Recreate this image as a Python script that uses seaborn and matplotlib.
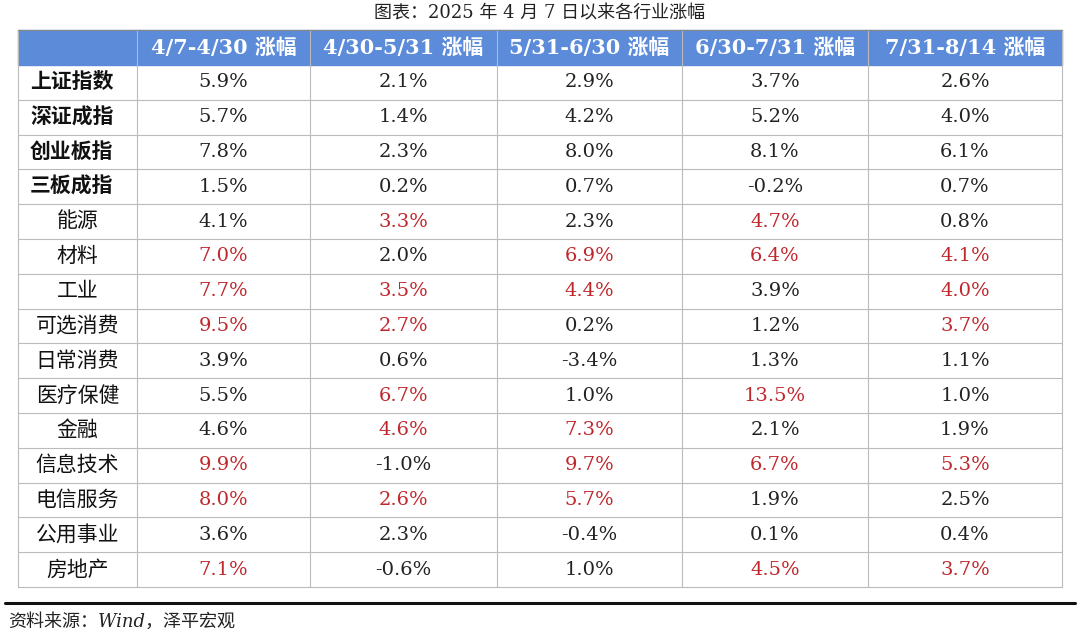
import matplotlib
matplotlib.use("Agg")
import matplotlib.pyplot as plt
import seaborn as sns
import numpy as np

sns.set_theme(style="white")
plt.rcParams['font.family'] = ['DejaVu Serif', 'Noto Sans CJK SC']

title = "图表：2025 年 4 月 7 日以来各行业涨幅"
columns = ["4/7-4/30 涨幅", "4/30-5/31 涨幅", "5/31-6/30 涨幅", "6/30-7/31 涨幅", "7/31-8/14 涨幅"]
rows = ["上证指数", "深证成指", "创业板指", "三板成指", "能源", "材料", "工业", "可选消费",
        "日常消费", "医疗保健", "金融", "信息技术", "电信服务", "公用事业", "房地产"]
values = [
    [5.9, 2.1, 2.9, 3.7, 2.6],
    [5.7, 1.4, 4.2, 5.2, 4.0],
    [7.8, 2.3, 8.0, 8.1, 6.1],
    [1.5, 0.2, 0.7, -0.2, 0.7],
    [4.1, 3.3, 2.3, 4.7, 0.8],
    [7.0, 2.0, 6.9, 6.4, 4.1],
    [7.7, 3.5, 4.4, 3.9, 4.0],
    [9.5, 2.7, 0.2, 1.2, 3.7],
    [3.9, 0.6, -3.4, 1.3, 1.1],
    [5.5, 6.7, 1.0, 13.5, 1.0],
    [4.6, 4.6, 7.3, 2.1, 1.9],
    [9.9, -1.0, 9.7, 6.7, 5.3],
    [8.0, 2.6, 5.7, 1.9, 2.5],
    [3.6, 2.3, -0.4, 0.1, 0.4],
    [7.1, -0.6, 1.0, 4.5, 3.7],
]
highlight = [
    [0, 0, 0, 0, 0], [0, 0, 0, 0, 0], [0, 0, 0, 0, 0], [0, 0, 0, 0, 0],
    [0, 1, 0, 1, 0],
    [1, 0, 1, 1, 1],
    [1, 1, 1, 0, 1],
    [1, 1, 0, 0, 1],
    [0, 0, 0, 0, 0],
    [0, 1, 0, 1, 0],
    [0, 1, 1, 0, 0],
    [1, 0, 1, 1, 1],
    [1, 1, 1, 0, 0],
    [0, 0, 0, 0, 0],
    [1, 0, 0, 1, 1],
]
n_index = 4
source = "资料来源：Wind，泽平宏观"

fig = plt.figure(figsize=(10.8, 6.38), dpi=100)
ax = fig.add_axes([0, 0, 1, 1])
ax.set_xlim(0, 1080)
ax.set_ylim(638, 0)
ax.axis("off")

col_x = [18, 137, 310, 497, 682, 868, 1062]
head_top, head_bot, body_bot = 30, 65, 587
row_h = (body_bot - head_bot) / len(rows)

ax.text(540, 13, title, ha="center", va="center", fontsize=13, color="#222222")
ax.add_patch(plt.Rectangle((col_x[0], head_top), col_x[-1] - col_x[0], head_bot - head_top,
                           color="#5B8BD9", zorder=0))
for j, c in enumerate(columns):
    ax.text((col_x[j + 1] + col_x[j + 2]) / 2, (head_top + head_bot) / 2, c,
            ha="center", va="center", fontsize=15, fontweight="bold", color="white")

for i, r in enumerate(rows):
    yc = head_bot + (i + 0.5) * row_h
    if i < n_index:
        ax.text(30, yc, r, ha="left", va="center", fontsize=15, fontweight="bold", color="#111111")
    else:
        ax.text((col_x[0] + col_x[1]) / 2, yc, r, ha="center", va="center", fontsize=15, color="#111111")
    for j, v in enumerate(values[i]):
        ax.text((col_x[j + 1] + col_x[j + 2]) / 2, yc, f"{v:.1f}%", ha="center", va="center",
                fontsize=14, color="#C0272D" if highlight[i][j] else "#222222")
    ax.plot([col_x[0], col_x[-1]], [head_bot + (i + 1) * row_h] * 2, color="#BBBBBB", lw=0.8)

for x in col_x:
    ax.plot([x, x], [head_top, body_bot], color="#BBBBBB", lw=0.8)
ax.plot([col_x[0], col_x[-1]], [head_top, head_top], color="#888888", lw=0.8)
ax.plot([5, 1075], [603, 603], color="#111111", lw=2.2)
ax.text(8, 622, source, ha="left", va="center", fontsize=13, style="italic", color="#222222")

fig.savefig("out.png", dpi=100)
